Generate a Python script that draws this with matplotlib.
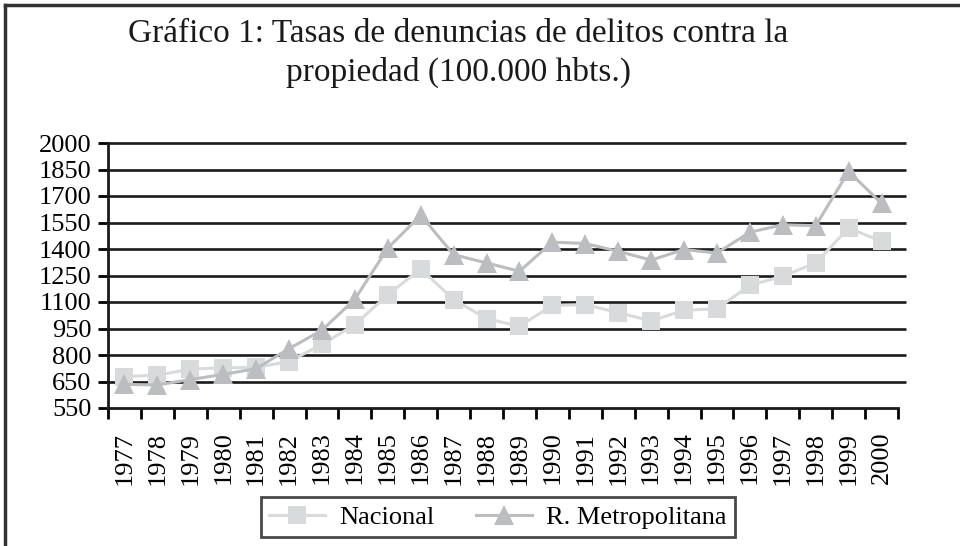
import matplotlib
matplotlib.use("Agg")
import matplotlib.pyplot as plt
from matplotlib.lines import Line2D
import numpy as np

# data
years = [str(y) for y in range(1977, 2001)]
nacional = [678, 686, 720, 728, 730, 763, 860, 972, 1141, 1287, 1114, 1006,
            963, 1081, 1085, 1040, 993, 1053, 1062, 1194, 1246, 1321, 1519, 1443]
metropolitana = [639, 637, 661, 690, 723, 836, 940, 1116, 1405, 1591, 1368, 1321,
                 1274, 1439, 1431, 1387, 1337, 1397, 1377, 1495, 1537, 1532, 1839, 1658]
yticks = [550, 650, 800, 950, 1100, 1250, 1400, 1550, 1700, 1850, 2000]

title = "Gráfico 1: Tasas de denuncias de delitos contra la\npropiedad (100.000 hbts.)"

plt.rcParams['font.family'] = ['Liberation Serif', 'DejaVu Serif']

# the original axis spaces its (uneven) tick values evenly
idx = np.arange(len(yticks))
def fwd(v):
    return np.interp(v, yticks, idx)
def inv(i):
    return np.interp(i, idx, yticks)

fig = plt.figure(figsize=(9.6, 5.46), dpi=100)
ax = fig.add_axes([108 / 960, (546 - 408) / 546, 790 / 960, 265 / 546])
ax.set_yscale('function', functions=(fwd, inv))

x = np.arange(len(years))
ax.plot(x, nacional, color='#d9dadc', lw=2.2, marker='s', markersize=13,
        markeredgewidth=0, label='Nacional', zorder=3)
ax.plot(x, metropolitana, color='#bcbdc0', lw=2.2, marker='^', markersize=15,
        markeredgewidth=0, label='R. Metropolitana', zorder=4)

ax.set_ylim(550, 2000)
ax.set_xlim(-0.5, len(years) - 0.5)
ax.set_yticks(yticks)
ax.set_yticklabels([str(t) for t in yticks], fontsize=19)
ax.set_xticks(x)
ax.set_xticklabels(years, rotation=90, fontsize=19)
ax.set_xticks(np.arange(len(years) + 1) - 0.5, minor=True)
ax.tick_params(axis='x', which='major', length=0, pad=17)
ax.tick_params(axis='x', which='minor', length=8, width=2, direction='out')
ax.tick_params(axis='y', length=7, width=2, pad=5)

# horizontal grid running a bit past the x axis end
ax.hlines(yticks[1:], 0, 1.01, transform=ax.get_yaxis_transform(),
          color='#1a1a1a', lw=1.9, clip_on=False, zorder=1)

for s in ['top', 'right']:
    ax.spines[s].set_visible(False)
for s in ['left', 'bottom']:
    ax.spines[s].set_linewidth(2)
    ax.spines[s].set_color('#1a1a1a')

fig.text(458 / 960, 1 - 18 / 546, title, ha='center', va='top',
         fontsize=24, linespacing=1.35, color='#1a1a1a')

leg = fig.legend(loc='center', bbox_to_anchor=(498 / 960, (546 - 517) / 546),
                 ncol=2, fontsize=19, frameon=True, fancybox=False,
                 handlelength=2.1, columnspacing=1.6, borderpad=0.3,
                 handletextpad=0.55)
leg.get_frame().set_edgecolor('#1a1a1a')
leg.get_frame().set_linewidth(2)

# outer frame (top and left edges visible in the reference)
fig.add_artist(Line2D([5 / 960, 1], [1 - 5 / 546, 1 - 5 / 546], color='#333333', lw=2.5))
fig.add_artist(Line2D([5 / 960, 5 / 960], [0, 1 - 5 / 546], color='#333333', lw=2.5))

fig.savefig('out.png', dpi=100)
